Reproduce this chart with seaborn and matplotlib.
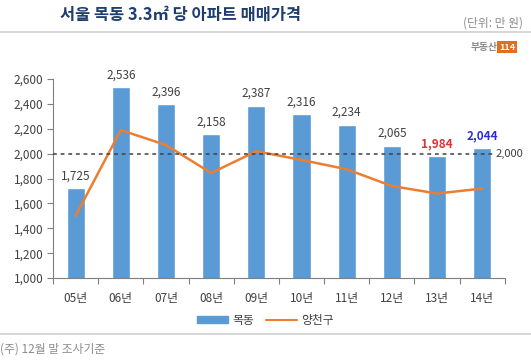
import matplotlib.pyplot as plt
import seaborn as sns
import numpy as np
from matplotlib.patches import Rectangle
from matplotlib.lines import Line2D

years = ['05년', '06년', '07년', '08년', '09년', '10년', '11년', '12년', '13년', '14년']
mokdong = [1725, 2536, 2396, 2158, 2387, 2316, 2234, 2065, 1984, 2044]
yangcheon = [1500, 2190, 2070, 1845, 2020, 1950, 1875, 1740, 1680, 1720]
ref_level = 2000
yticks = list(range(1000, 2601, 200))

sns.set_theme(style='white')
plt.rcParams['font.family'] = ['Noto Sans CJK KR', 'DejaVu Sans']

bar_color = '#5b9bd5'
line_color = '#ed7d31'
text_color = '#404040'

fig = plt.figure(figsize=(5.31, 3.63), dpi=100)
ax = fig.add_axes([0.0998, 0.234, 0.851, 0.548])

sns.barplot(x=years, y=mokdong, color=bar_color, width=0.4, ax=ax, saturation=1)
sns.lineplot(x=np.arange(len(years)), y=yangcheon, color=line_color, linewidth=1.8, ax=ax)

ax.set_xlim(-0.5, len(years) - 0.5)
ax.set_ylim(1000, 2600)
ax.set_yticks(yticks)
ax.set_yticklabels([f'{v:,}' for v in yticks], fontsize=8.5, color=text_color)
ax.set_xticks(np.arange(len(years)))
ax.set_xticklabels(years, fontsize=8.5, color=text_color)
ax.tick_params(axis='x', length=0, pad=10)
ax.tick_params(axis='y', length=4, width=0.8, color='#7f7f7f', direction='out', left=True, pad=3)
ax.set_xticks(np.arange(len(years) + 1) - 0.5, minor=True)
ax.tick_params(axis='x', which='minor', length=4, width=0.8, color='#7f7f7f', bottom=True, direction='out')

for s in ['top', 'right']:
    ax.spines[s].set_visible(False)
for s in ['left', 'bottom']:
    ax.spines[s].set_color('#7f7f7f')
    ax.spines[s].set_linewidth(0.8)

ax.axhline(ref_level, xmin=0, xmax=0.973, color='#404040', linestyle=(0, (2.5, 2.5)), linewidth=1.1, zorder=3)
ax.text(9.3, ref_level, f'{ref_level:,}', fontsize=8, color=text_color, va='center', ha='left')

label_colors = [text_color] * 8 + ['#e03030', '#2f2fd0']
label_weights = ['normal'] * 8 + ['bold', 'bold']
for i, v in enumerate(mokdong):
    ax.text(i, v + 45, f'{v:,}', ha='center', va='bottom', fontsize=8.5,
            color=label_colors[i], fontweight=label_weights[i])

handles = [Rectangle((0, 0), 1, 1, color=bar_color), Line2D([0], [0], color=line_color, linewidth=1.5)]
fig.legend(handles, ['목동', '양천구'], loc='center', bbox_to_anchor=(0.5, 0.118), ncol=2,
           frameon=False, fontsize=8.5, handlelength=2.6, handleheight=0.5, columnspacing=1.0,
           handletextpad=0.4, labelcolor=text_color)

# frame lines
fig.add_artist(Line2D([0, 1], [1 - 32 / 363, 1 - 32 / 363], color='#d0d0d0', linewidth=1.2))
fig.add_artist(Line2D([0, 1], [1 - 334 / 363, 1 - 334 / 363], color='#d0d0d0', linewidth=1.2))

fig.text(0.113, 1 - 15 / 363, '서울 목동 3.3㎡ 당 아파트 매매가격', fontsize=11.8, fontweight='bold',
         color='#1f3d6e', va='center', ha='left')
fig.text(0.985, 1 - 23 / 363, '(단위: 만 원)', fontsize=8.5, color='#8c8c8c', va='center', ha='right')
fig.text(0.937, 1 - 47 / 363, '부동산', fontsize=7, color='#8c8c8c', va='center', ha='right', fontweight='bold')
fig.text(0.955, 1 - 47 / 363, '114', fontsize=6.5, color='white', va='center', ha='center', fontweight='bold',
         bbox=dict(boxstyle='square,pad=0.2', facecolor='#e0701f', edgecolor='none'))
fig.text(0.0, 1 - 349 / 363, '(주) 12월 말 조사기준', fontsize=8.5, color='#8c8c8c', va='center', ha='left')

fig.savefig('out.png', dpi=100)
